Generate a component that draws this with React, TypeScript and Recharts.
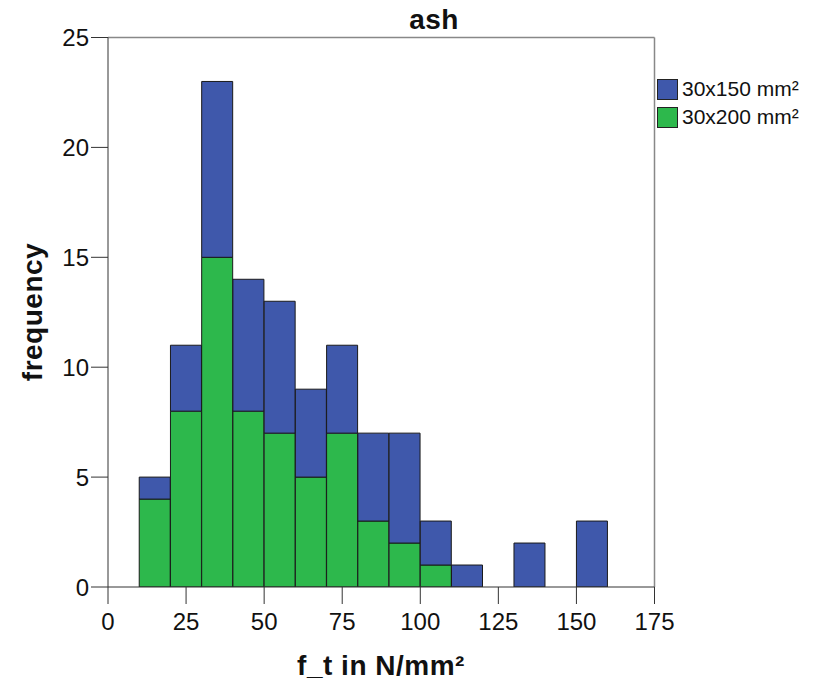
import React from 'react';
import { BarChart, Bar, XAxis, YAxis, ReferenceLine } from 'recharts';

const binStarts = [10, 20, 30, 40, 50, 60, 70, 80, 90, 100, 110, 120, 130, 140, 150];
const binWidth = 10;
const count150 = [1, 3, 8, 6, 6, 4, 4, 4, 5, 2, 1, 0, 2, 0, 3];
const count200 = [4, 8, 15, 8, 7, 5, 7, 3, 2, 1, 0, 0, 0, 0, 0];
const xTicks = [0, 25, 50, 75, 100, 125, 150, 175];
const yTicks = [0, 5, 10, 15, 20, 25];
const seriesNames = ['30x150 mm²', '30x200 mm²'];
const seriesColors = ['#3F58AB', '#2DB84C'];
const title = 'ash';
const xLabel = 'f_t in N/mm²';
const yLabel = 'frequency';

const data = binStarts.map((s, i) => ({
  center: s + binWidth / 2,
  s150: count150[i],
  s200: count200[i],
}));

const FONT = '"Liberation Sans", Arial, sans-serif';

const LegendBox = () => (
  <div style={{ position: 'absolute', left: 649, top: 67, fontFamily: FONT, zIndex: 2 }}>
    {seriesNames.map((n, i) => (
      <div key={n} style={{ display: 'flex', alignItems: 'center', height: 28 }}>
        <div
          style={{
            width: 19,
            height: 19,
            background: seriesColors[i],
            border: '1px solid #222',
            marginRight: 4,
          }}
        />
        <span style={{ fontSize: 21, color: '#111', whiteSpace: 'nowrap' }}>{n}</span>
      </div>
    ))}
  </div>
);

export default function App() {
  return (
    <div style={{ position: 'relative', width: 805, height: 678, marginBottom: -8, fontFamily: FONT }}>
      <BarChart
        width={805}
        height={670}
        data={data}
        margin={{ top: 29.5, right: 158.5, bottom: 41, left: 0 }}
        barCategoryGap={0}
        barGap={0}
      >
        <XAxis
          type="number"
          dataKey="center"
          domain={[0, 175]}
          ticks={xTicks}
          interval={0}
          height={50}
          tickSize={17}
          tickMargin={9}
          allowDataOverflow
          axisLine={{ stroke: '#333' }}
          tickLine={{ stroke: '#333' }}
          tick={{ fill: '#111', fontSize: 24, fontFamily: FONT }}
        />
        <YAxis
          type="number"
          domain={[0, 25]}
          ticks={yTicks}
          interval={0}
          width={100}
          tickSize={17}
          tickMargin={2}
          allowDataOverflow
          axisLine={{ stroke: '#333' }}
          tickLine={{ stroke: '#333' }}
          tick={{ fill: '#111', fontSize: 24, fontFamily: FONT }}
        />
        <ReferenceLine y={25} stroke="#888" strokeWidth={1.5} ifOverflow="visible" />
        <ReferenceLine x={175} stroke="#888" strokeWidth={1.5} ifOverflow="visible" />
        <Bar dataKey="s200" stackId="a" fill={seriesColors[1]} stroke="#1a1a1a" strokeWidth={1} isAnimationActive={false} />
        <Bar dataKey="s150" stackId="a" fill={seriesColors[0]} stroke="#1a1a1a" strokeWidth={1} isAnimationActive={false} />
      </BarChart>
      <div
        style={{
          position: 'absolute',
          left: 326,
          width: 200,
          top: -4,
          textAlign: 'center',
          fontSize: 28,
          fontWeight: 'bold',
          lineHeight: '32px',
          color: '#111',
          letterSpacing: 0.5,
          zIndex: 2,
        }}
      >
        {title}
      </div>
      <div
        style={{
          position: 'absolute',
          left: 173,
          width: 400,
          top: 642,
          textAlign: 'center',
          fontSize: 28,
          fontWeight: 'bold',
          lineHeight: '32px',
          color: '#111',
          letterSpacing: 0.5,
          zIndex: 2,
        }}
      >
        {xLabel}
      </div>
      <div
        style={{
          position: 'absolute',
          left: 25 - 100,
          top: 304 - 16,
          width: 200,
          textAlign: 'center',
          fontSize: 28,
          fontWeight: 'bold',
          lineHeight: '32px',
          color: '#111',
          letterSpacing: 0.5,
          transform: 'rotate(-90deg)',
          zIndex: 2,
        }}
      >
        {yLabel}
      </div>
      <LegendBox />
    </div>
  );
}
